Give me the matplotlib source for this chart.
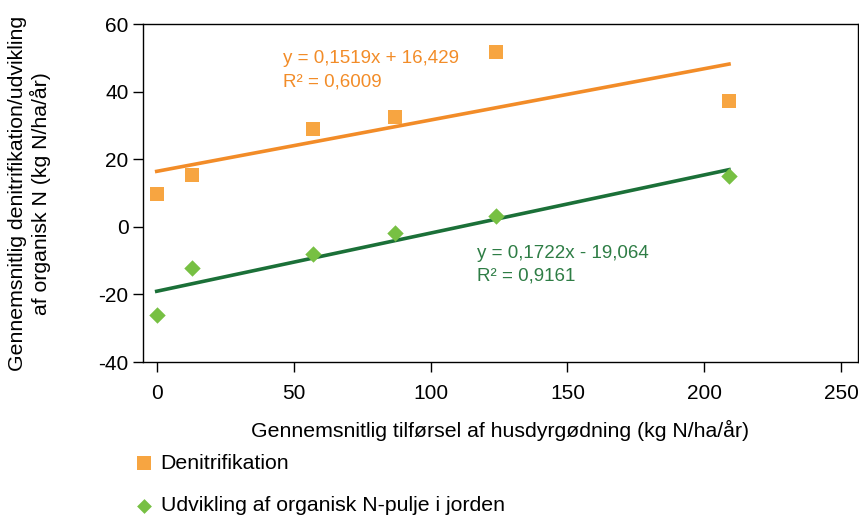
import matplotlib
matplotlib.use("Agg")
import matplotlib.pyplot as plt
import numpy as np

plt.rcParams['font.family'] = ['Liberation Sans', 'DejaVu Sans']
plt.rcParams['axes.unicode_minus'] = False

x_denit = [0, 13, 57, 87, 124, 209]
y_denit = [9.6, 15.4, 29.1, 32.5, 51.7, 37.3]
x_udv = [0, 13, 57, 87, 124, 209]
y_udv = [-26.0, -12.3, -8.0, -1.9, 3.1, 15.1]

trend_denit = (0.1519, 16.429)
trend_udv = (0.1722, -19.064)
label_denit = "y = 0,1519x + 16,429\nR² = 0,6009"
label_udv = "y = 0,1722x - 19,064\nR² = 0,9161"

xticks = [0, 50, 100, 150, 200, 250]
yticks = [-40, -20, 0, 20, 40, 60]

c_sq = '#F7A541'
c_line_o = '#F28C28'
c_dia = '#77C043'
c_line_g = '#1B7038'

fig = plt.figure(figsize=(8.59, 5.19), dpi=100)
ax = fig.add_axes([0.1665, 0.3025, 0.832, 0.651])

xl = np.array([min(x_denit), max(x_denit)])
ax.plot(xl, trend_denit[0] * xl + trend_denit[1], color=c_line_o, lw=2.6, zorder=2)
xl2 = np.array([min(x_udv), max(x_udv)])
ax.plot(xl2, trend_udv[0] * xl2 + trend_udv[1], color=c_line_g, lw=2.6, zorder=2)

ax.scatter(x_denit, y_denit, marker='s', s=110, color=c_sq, zorder=3, label='Denitrifikation', linewidths=0)
ax.scatter(x_udv, y_udv, marker='D', s=70, color=c_dia, zorder=3, label='Udvikling af organisk N-pulje i jorden', linewidths=0)

ax.text(46, 46.4, label_denit, color=c_line_o, fontsize=13.5, va='center', linespacing=1.45)
ax.text(117, -11.2, label_udv, color='#2E7D45', fontsize=13.5, va='center', linespacing=1.45)

ax.set_xlim(-5, 256)
ax.set_ylim(-40, 60)
ax.set_xticks(xticks)
ax.set_yticks(yticks)
ax.tick_params(axis='both', labelsize=15, direction='out', length=7, width=1)
ax.tick_params(axis='x', pad=9)
for s in ax.spines.values():
    s.set_linewidth(1)

ax.set_xlabel('Gennemsnitlig tilførsel af husdyrgødning (kg N/ha/år)', fontsize=15.3, labelpad=12)
ax.set_ylabel('Gennemsnitlig denitrifikation/udvikling\naf organisk N (kg N/ha/år)', fontsize=15.3, labelpad=34,
              linespacing=1.15)

handles, labels = ax.get_legend_handles_labels()
fig.legend(handles, labels, loc='upper left', bbox_to_anchor=(0.145, 0.142), frameon=False,
           fontsize=15.3, handletextpad=0.3, labelspacing=1.1, borderaxespad=0, handlelength=1.0,
           markerscale=0.9)

fig.savefig('out.png', dpi=100)
